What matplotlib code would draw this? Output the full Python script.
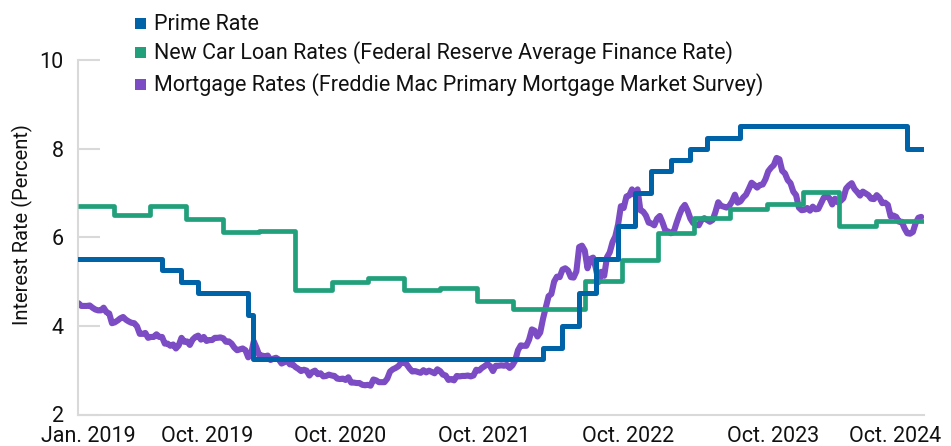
import matplotlib
matplotlib.use('Agg')
import matplotlib.pyplot as plt
import pandas as pd
from matplotlib.patches import Rectangle

plt.rcParams['font.family'] = ['Roboto', 'DejaVu Sans']

# ---------------- data ----------------
prime_dates = ['2019-01-01', '2019-08-01', '2019-09-19', '2019-10-31', '2020-03-04',
               '2020-03-16', '2022-03-17', '2022-05-05', '2022-06-16', '2022-07-28',
               '2022-09-22', '2022-11-03', '2022-12-15', '2023-02-02', '2023-03-23',
               '2023-05-04', '2023-07-27', '2024-09-19', '2024-10-31']
prime_values = [5.5, 5.25, 5.0, 4.75, 4.25, 3.25, 3.5, 4.0, 4.75, 5.5,
                6.25, 7.0, 7.5, 7.75, 8.0, 8.25, 8.5, 8.0, 8.0]

car_dates = ['2019-01-01', '2019-04-01', '2019-07-01', '2019-10-01',
             '2020-01-01', '2020-04-01', '2020-07-01', '2020-10-01',
             '2021-01-01', '2021-04-01', '2021-07-01', '2021-10-01',
             '2022-01-01', '2022-04-01', '2022-07-01', '2022-10-01',
             '2023-01-01', '2023-04-01', '2023-07-01', '2023-10-01',
             '2024-01-01', '2024-04-01', '2024-07-01', '2024-10-31']
car_values = [6.71, 6.50, 6.70, 6.41,
              6.12, 6.15, 4.81, 5.00,
              5.07, 4.80, 4.86, 4.56,
              4.39, 4.39, 5.01, 5.49,
              6.09, 6.43, 6.63, 6.74,
              7.01, 6.25, 6.37, 6.37]

mort_2019 = [4.51, 4.45, 4.45, 4.45, 4.46, 4.41, 4.37, 4.35, 4.35, 4.41, 4.31, 4.28, 4.06,
             4.08, 4.12, 4.17, 4.20, 4.14, 4.10, 4.07, 4.06, 3.99, 3.82, 3.82, 3.84, 3.73,
             3.75, 3.75, 3.81, 3.75, 3.75, 3.60, 3.60, 3.55, 3.58, 3.49, 3.56, 3.73, 3.64,
             3.65, 3.57, 3.69, 3.75, 3.78, 3.69, 3.75, 3.66, 3.68, 3.68, 3.73, 3.73, 3.74]
mort_2020 = [3.72, 3.64, 3.65, 3.60, 3.51, 3.45, 3.47, 3.49, 3.45, 3.29, 3.36, 3.65, 3.50,
             3.33, 3.33, 3.31, 3.33, 3.23, 3.26, 3.28, 3.24, 3.15, 3.18, 3.21, 3.13, 3.13,
             3.07, 3.03, 2.98, 3.01, 2.99, 2.88, 2.96, 2.99, 2.91, 2.93, 2.86, 2.87, 2.90,
             2.88, 2.87, 2.81, 2.80, 2.81, 2.78, 2.84, 2.72, 2.72, 2.71, 2.71, 2.67, 2.66, 2.67]
mort_2021 = [2.65, 2.79, 2.77, 2.73, 2.73, 2.73, 2.81, 2.97, 3.02, 3.05, 3.09, 3.17,
             3.18, 3.13, 3.04, 2.97, 2.98, 2.96, 2.94, 3.00, 2.95, 2.99, 2.96, 2.93, 3.02,
             2.98, 2.90, 2.88, 2.78, 2.80, 2.77, 2.87, 2.86, 2.87, 2.87, 2.88, 2.86, 2.88, 3.01,
             2.99, 3.05, 3.09, 3.14, 3.09, 2.98, 3.10, 3.10, 3.11, 3.10, 3.12, 3.05, 3.11]
mort_2022 = [3.22, 3.45, 3.56, 3.55, 3.55, 3.69, 3.92, 3.89, 3.76, 3.85, 4.16, 4.42, 4.67,
             4.72, 5.00, 5.11, 5.10, 5.27, 5.30, 5.25, 5.10, 5.09, 5.23, 5.78, 5.81, 5.70,
             5.30, 5.51, 5.54, 5.30, 4.99, 5.22, 5.13, 5.55, 5.66, 5.89, 6.02, 6.29, 6.70,
             6.66, 6.92, 6.94, 7.08, 6.95, 7.08, 6.61, 6.58, 6.49, 6.33, 6.31, 6.27, 6.42]
mort_2023 = [6.48, 6.33, 6.15, 6.13, 6.09, 6.12, 6.32, 6.50, 6.65, 6.73, 6.60, 6.42, 6.32,
             6.28, 6.27, 6.39, 6.43, 6.39, 6.35, 6.39, 6.57, 6.79, 6.71, 6.69, 6.67, 6.71,
             6.81, 6.96, 6.78, 6.81, 6.90, 6.96, 7.09, 7.23, 7.18, 7.12, 7.18, 7.19, 7.31,
             7.49, 7.57, 7.63, 7.79, 7.76, 7.50, 7.44, 7.29, 7.22, 7.03, 6.95, 6.67, 6.61]
mort_2024 = [6.62, 6.66, 6.60, 6.69, 6.63, 6.64, 6.77, 6.90, 6.94, 6.88, 6.74, 6.87, 6.79,
             6.82, 6.88, 7.10, 7.17, 7.22, 7.09, 7.02, 6.94, 7.03, 6.99, 6.95, 6.87, 6.86,
             6.95, 6.89, 6.77, 6.78, 6.73, 6.47, 6.49, 6.46, 6.35, 6.35, 6.20, 6.09, 6.08,
             6.12, 6.32, 6.44, 6.46]
mort_starts = ['2019-01-03', '2020-01-02', '2021-01-07', '2022-01-06', '2023-01-05', '2024-01-04']
mort_years = [mort_2019, mort_2020, mort_2021, mort_2022, mort_2023, mort_2024]

tick_labels = ['Jan. 2019', 'Oct. 2019', 'Oct. 2020', 'Oct. 2021', 'Oct. 2022', 'Oct. 2023', 'Oct. 2024']
tick_dates = ['2019-01-27', '2019-11-22', '2020-10-22', '2021-10-20', '2022-10-18', '2023-10-16', '2024-08-20']
y_ticks = [2, 4, 6, 8, 10]

series_names = ['Prime Rate',
                'New Car Loan Rates (Federal Reserve Average Finance Rate)',
                'Mortgage Rates (Freddie Mac Primary Mortgage Market Survey)']

# ---------------- build ----------------
mort_dates = []
mort_values = []
for s, vals in zip(mort_starts, mort_years):
    mort_dates.extend(pd.date_range(s, periods=len(vals), freq='7D'))
    mort_values.extend(vals)

BLUE = '#0063A8'
GREEN = '#22A07C'
PURPLE = '#7B4CC3'
TXT = '#111111'
GRID = '#d9d9d9'
FS = 15.5

W, H = 951, 446
fig = plt.figure(figsize=(W / 100, H / 100), dpi=100)
ax = fig.add_axes([77.8 / W, 1 - 414.5 / H, (924 - 77.8) / W, (414.5 - 60) / H])

ax.plot(pd.to_datetime(mort_dates), mort_values, color=PURPLE, lw=4.4,
        solid_joinstyle='round', solid_capstyle='round', zorder=2)
ax.plot(pd.to_datetime(car_dates), car_values, color=GREEN, lw=3.4, drawstyle='steps-post',
        solid_joinstyle='round', solid_capstyle='butt', zorder=3)
ax.plot(pd.to_datetime(prime_dates), prime_values, color=BLUE, lw=3.6, drawstyle='steps-post',
        solid_joinstyle='round', solid_capstyle='round', zorder=4)

ax.set_xlim(pd.Timestamp('2019-01-01'), pd.Timestamp('2024-10-31'))
ax.set_ylim(2, 10)
ax.set_yticks(y_ticks)
ax.set_yticklabels([str(v) for v in y_ticks])
ax.set_xticks(pd.to_datetime(tick_dates))
ax.set_xticklabels(tick_labels)

for side in ['top', 'right']:
    ax.spines[side].set_visible(False)
for side in ['left', 'bottom']:
    ax.spines[side].set_color(GRID)
    ax.spines[side].set_linewidth(1.5)

ax.tick_params(axis='y', direction='in', length=15.5, width=1.5, color=GRID, pad=10,
               labelsize=FS, labelcolor=TXT)
ax.tick_params(axis='x', length=0, pad=8.5, labelsize=FS, labelcolor=TXT)

fig.text(22 / W, 1 - 225 / H, 'Interest Rate (Percent)', rotation=90, ha='center', va='center',
         fontsize=14.5, color=TXT)

# legend (manual)
sq_centers = [23.5, 52, 84.5]
baselines = [30, 59.3, 91]
for name, col, yc, yb in zip(series_names, [BLUE, GREEN, PURPLE], sq_centers, baselines):
    fig.add_artist(Rectangle((135 / W, 1 - (yc + 5.5) / H), 11 / W, 11 / H,
                             transform=fig.transFigure, facecolor=col, edgecolor='none'))
    fig.text(154 / W, 1 - yb / H, name, ha='left', va='baseline', fontsize=FS, color=TXT)

fig.savefig('out.png', dpi=100)
